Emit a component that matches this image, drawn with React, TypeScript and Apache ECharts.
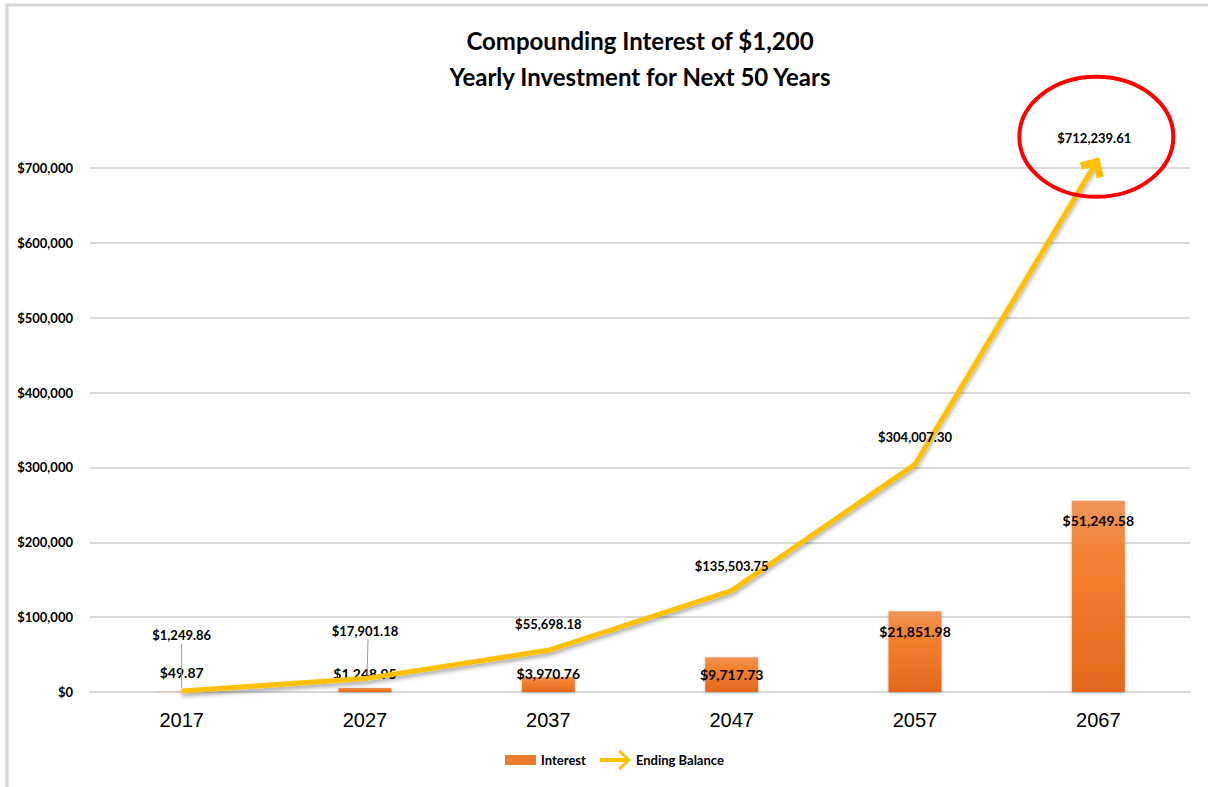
import React, { useEffect, useRef } from "react";
import * as echarts from "echarts";

const years = ["2017", "2027", "2037", "2047", "2057", "2067"];
const endingBalance = [1249.86, 17901.18, 55698.18, 135503.75, 304007.3, 712239.61];
// bar heights as drawn in the reference (Interest series)
const interestBars = [250, 5300, 20000, 46500, 108000, 255500];
const interestLabels = ["$49.87", "$1,248.95", "$3,970.76", "$9,717.73", "$21,851.98", "$51,249.58"];
const balanceLabels = ["$1,249.86", "$17,901.18", "$55,698.18", "$135,503.75", "$304,007.30", "$712,239.61"];
const yTicks = { min: 0, max: 700000, interval: 100000 };

const FONT = "Lato, 'Noto Sans', sans-serif";
const ARROW = "path://M0,13 L13,0 L26,13 L21,17.5 L13,9.5 L5,17.5 Z";
const LEGEND_ARROW = "path://M0,8 L25,8 L18,2 L20.5,0 L31,10 L20.5,20 L18,18 L25,12 L0,12 Z";
const LEGEND_RECT = "path://M0,0 L0.01,0 L0,0.01 Z M0,5 L31,5 L31,15 L0,15 Z M0,20 L0.01,20 L0,19.99 Z";

export default function App() {
  const ref = useRef<HTMLDivElement>(null);
  useEffect(() => {
    if (!ref.current) return;
    const chart = echarts.init(ref.current, null, { renderer: "svg" });
    const barDist = [12, 8, -3, 10, 13, 13];
    const barPos = ["top", "top", "top", "insideTop", "insideTop", "insideTop"];
    const lineDist = [49, 41, 19, 18, 20, 6];
    const last = endingBalance.length - 1;
    const build = (rot: number, off: number[]) => ({
      animation: false,
      backgroundColor: "#ffffff",
      title: {
        text: "Compounding Interest of $1,200\nYearly Investment for Next 50 Years",
        left: 635,
        top: 17,
        textAlign: "center",
        textStyle: { fontFamily: FONT, fontWeight: "bold", fontSize: 24, lineHeight: 36, color: "#000" },
      },
      legend: {
        left: 500,
        top: 745,
        itemWidth: 31,
        itemHeight: 20,
        itemGap: 14,
        textStyle: { fontFamily: FONT, fontWeight: "bold", fontSize: 13, color: "#000" },
        data: [
          { name: "Interest", icon: LEGEND_RECT, itemStyle: { color: "#EE7B30" } },
          { name: "Ending Balance", icon: LEGEND_ARROW, itemStyle: { color: "#FFC000" } },
        ],
      },
      grid: { left: 90, right: 18, top: 168, bottom: 95 },
      xAxis: {
        type: "category",
        data: years,
        boundaryGap: true,
        axisLine: { lineStyle: { color: "#d9d9d9", width: 2 } },
        axisTick: { show: false },
        axisLabel: { fontFamily: "'Liberation Sans', Arial, sans-serif", fontSize: 20, color: "#000", margin: 18 },
      },
      yAxis: {
        type: "value",
        min: yTicks.min,
        max: yTicks.max,
        interval: yTicks.interval,
        axisLine: { show: false },
        axisTick: { show: false },
        splitLine: { lineStyle: { color: "#d9d9d9", width: 2 } },
        axisLabel: {
          fontFamily: FONT,
          fontWeight: "bold",
          fontSize: 13,
          color: "#000",
          margin: 17,
          formatter: (v: number) => "$" + v.toLocaleString("en-US"),
        },
      },
      series: [
        {
          name: "Interest",
          type: "bar",
          barWidth: 53,
          itemStyle: {
            color: new echarts.graphic.LinearGradient(0, 0, 0, 1, [
              { offset: 0, color: "#F0955C" },
              { offset: 0.3, color: "#F4812F" },
              { offset: 1, color: "#E2691B" },
            ]),
            shadowColor: "rgba(0,0,0,0.25)",
            shadowBlur: 3,
            shadowOffsetY: 1,
          },
          data: interestBars.map((v, i) => ({
            value: v,
            label: {
              show: true,
              position: barPos[i],
              distance: barDist[i],
              formatter: interestLabels[i],
              fontFamily: FONT,
              fontWeight: "bold",
              fontSize: 14,
              color: "#000",
            },
          })),
          z: 2,
        },
        {
          name: "Ending Balance",
          type: "line",
          clip: false,
          showSymbol: true,
          symbol: "circle",
          lineStyle: {
            color: "#FFC000",
            width: 5,
            shadowColor: "rgba(0,0,0,0.35)",
            shadowBlur: 4,
            shadowOffsetY: 3,
          },
          itemStyle: { color: "#FFC000" },
          data: endingBalance.map((v, i) => ({
            value: v,
            symbol: i === last ? ARROW : "circle",
            symbolSize: i === last ? [28, 19] : 1,
            symbolRotate: i === last ? rot : 0,
            symbolOffset: i === last ? off : [0, 0],
            itemStyle: { opacity: i === last ? 1 : 0 },
            label: {
              show: true,
              position: "top",
              distance: lineDist[i],
              formatter: balanceLabels[i],
              fontFamily: FONT,
              fontWeight: "bold",
              fontSize: 13,
              color: "#000",
              opacity: 1,
            },
          })),
          z: 3,
        },
      ],
    });
    chart.setOption(build(0, [0, 0]));
    const pts = endingBalance.map((v, i) => chart.convertToPixel({ gridIndex: 0 }, [i, v]) as number[]);
    const a = pts[last - 1], b = pts[last];
    const ang = (Math.atan2(b[0] - a[0], a[1] - b[1]) * 180) / Math.PI;
    const dx = b[0] - a[0], dy = b[1] - a[1];
    const len = Math.sqrt(dx * dx + dy * dy);
    const off = [(-dx / len) * 8, (-dy / len) * 8];
    const graphics: any[] = [
      {
        type: "rect",
        shape: { x: 7, y: 5, width: 1400, height: 1000 },
        style: { fill: "none", stroke: "#d6d6d6", lineWidth: 3 },
        silent: true,
      },
      {
        type: "ellipse",
        shape: { cx: b[0] - 2, cy: b[1] - 22, rx: 77, ry: 60 },
        style: { fill: "none", stroke: "#FF0000", lineWidth: 4 },
        z: 10,
      },
    ];
    [0, 1].forEach((i) => {
      graphics.push({
        type: "line",
        shape: { x1: pts[i][0] + i * 3, y1: pts[i][1] - lineDist[i] + 2, x2: pts[i][0] + i * 2, y2: pts[i][1] - 3 },
        style: { stroke: "#9a9a9a", lineWidth: 1 },
        z: 10,
      });
    });
    const opt: any = build(-ang, off);
    opt.graphic = graphics;
    chart.setOption(opt);
    return () => chart.dispose();
  }, []);
  return (
    <div
      ref={ref}
      style={{ position: "fixed", left: 0, top: 0, width: 1208, height: 787 }}
    />
  );
}
